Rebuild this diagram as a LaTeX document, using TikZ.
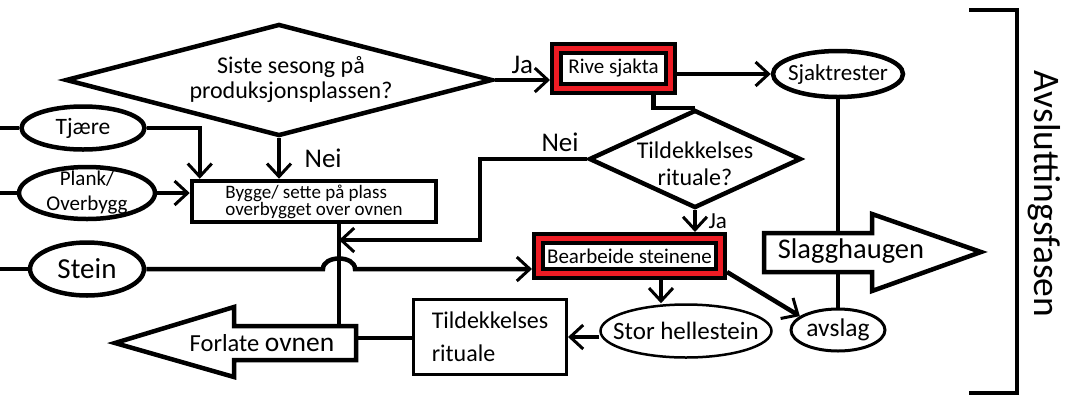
\documentclass[tikz,border=0pt]{standalone}
\usepackage{fontspec}
\setmainfont{Carlito}
\usetikzlibrary{shapes.geometric,arrows.meta}
\definecolor{redfill}{RGB}{237,28,36}
\begin{document}
\begin{tikzpicture}[x=1pt,y=-1pt,line width=4.5pt,
    font=\fontsize{24}{25}\selectfont,
    oval/.style={ellipse,draw,inner sep=0pt},
    decision/.style={diamond,draw,inner sep=0pt},
    box/.style={rectangle,draw,inner sep=0pt},
    redbox/.style={box,line width=4pt,double=redfill,double distance=5pt,fill=white,outer sep=6.5pt},
    flow/.style={-{Straight Barb[length=13pt,width=24pt,line width=3pt]}},
    svar/.style={font=\fontsize{27}{27}\selectfont},
    bigarrow/.style={draw,fill=white,line join=miter}]
  \useasboundingbox (0,0) rectangle (1080,408);

  % innsatsfaktorer
  \coordinate (inT) at (0,128);
  \coordinate (inP) at (0,193);
  \coordinate (inS) at (0,269);
  \node[oval,minimum width=123pt,minimum height=43pt,
    label={[font=\fontsize{23.5}{24}\selectfont]center:Tjære}] (tjaere) at (83,128) {};
  \node[oval,minimum width=136pt,minimum height=52pt,
    label={[align=center,font=\fontsize{21}{25}\selectfont]center:Plank/\\Overbygg}] (plank) at (87,193) {};
  \node[oval,minimum width=114pt,minimum height=53pt,
    label={[font=\fontsize{29}{29}\selectfont]center:Stein}] (stein) at (87,269) {};
  \draw (inT) -- (tjaere.west);
  \draw (inP) -- (plank.west);
  \draw (inS) -- (stein.west);

  % beslutninger
  \node[decision,minimum width=427pt,minimum height=112pt,shape aspect=3.8,
    label={[align=center,xshift=12pt]center:Siste sesong på\\produksjonsplassen?}] (siste) at (279,80) {};
  \node[decision,minimum width=212pt,minimum height=98pt,shape aspect=2.16,
    label={[align=center,font=\fontsize{24}{27}\selectfont,yshift=-5pt]center:Tildekkelses\\rituale?}] (tild) at (695,159) {};

  % bokser
  \node[box,minimum width=244pt,minimum height=41pt,align=left,
    font=\fontsize{19}{17}\selectfont] (bygge) at (314,201.5) {Bygge/ sette på plass\\overbygget over ovnen};
  \node[redbox,minimum width=114pt,minimum height=40pt,
    font=\fontsize{21}{21}\selectfont] (rive) at (613.5,68.5) {Rive sjakta};
  \node[redbox,minimum width=182pt,minimum height=35pt,
    font=\fontsize{21}{21}\selectfont] (bearb) at (629.5,256) {Bearbeide steinene};
  \node[box,line width=3pt,minimum width=153pt,minimum height=75pt,align=left,
    font=\fontsize{24}{33}\selectfont] (tbox) at (490,337) {Tildekkelses\\rituale};

  % ovaler
  \node[oval,minimum width=130pt,minimum height=46pt,
    label={[font=\fontsize{23}{23}\selectfont]center:Sjaktrester}] (sjakt) at (838,74) {};
  \node[oval,line width=2.5pt,minimum width=171pt,minimum height=53pt,
    label={[font=\fontsize{25}{26}\selectfont]center:Stor hellestein}] (stor) at (686,331) {};
  \node[oval,line width=3pt,minimum width=94pt,minimum height=42pt,
    label={[font=\fontsize{25.5}{26}\selectfont]center:avslag}] (avslag) at (838,330) {};

  % piler
  \coordinate (forlT) at (339,326);
  \coordinate (forlR) at (356,338);
  \coordinate (neiHj) at (480,240);
  \draw[flow] (tjaere.east) -| ([xshift=10pt]bygge.north west);
  \draw[flow] (plank.east) -- (plank.east -| bygge.west);
  \draw[flow] (siste.south) -- node[right=20pt,svar] {Nei} (siste.south |- bygge.north);
  \draw[flow] (siste.east) -- node[above=1pt,svar] {Ja} (siste.east -| rive.west);
  \draw[flow] (rive.east |- sjakt) -- (sjakt.west);
  \draw ([xshift=40pt]rive.south) |- (tild.north);
  \draw[flow] (tild.west) -- node[pos=0.25,above=2pt,svar] {Nei} (tild.west -| neiHj) -- (neiHj) -- (neiHj -| forlT);
  \draw[flow] (tild.south) -- node[right=8pt,font=\fontsize{23}{23}\selectfont] {Ja} (tild.south |- bearb.north);
  \draw[flow] (stein.east) -- (323,269) .. controls (323,255) and (355,255) .. (355,269) -- (stein.east -| bearb.west);
  \draw (bygge.south -| forlT) -- (forlT);
  \draw[flow] ([xshift=31.5pt]bearb.south) -- ([xshift=31.5pt]bearb.south |- stor.north);
  \draw[flow] ([yshift=-6pt]stor.west) -- ([yshift=-6pt]stor.west -| tbox.east);
  \draw (tbox.west |- forlR) -- (forlR);
  \draw[flow] ([yshift=8pt]bearb.south east) -- (avslag.160);
  \draw (sjakt.south) -- (avslag.north);

  % store piler
  \draw[bigarrow] (764,233) -- (872,233) -- (872,214) -- (981,252) -- (872,291) -- (872,272) -- (764,272) -- cycle;
  \node[font=\fontsize{28.5}{28}\selectfont] (slagg) at (851,251) {Slagghaugen};
  \draw[bigarrow] (356,326) -- (234,326) -- (234,307) -- (115,343) -- (234,377) -- (234,360) -- (356,360) -- cycle;
  \node[font=\fontsize{24.5}{25}\selectfont] (forlate) at (262,343) {Forlate {\fontsize{27.5}{28}\selectfont ovnen}};

  % fase
  \draw (969,10) -- (1017,10) -- (1017,393) -- (969,393);
  \node[rotate=-90,font=\fontsize{37.5}{37}\selectfont] (fase) at (1044,194) {Avsluttingsfasen};
\end{tikzpicture}
\end{document}
